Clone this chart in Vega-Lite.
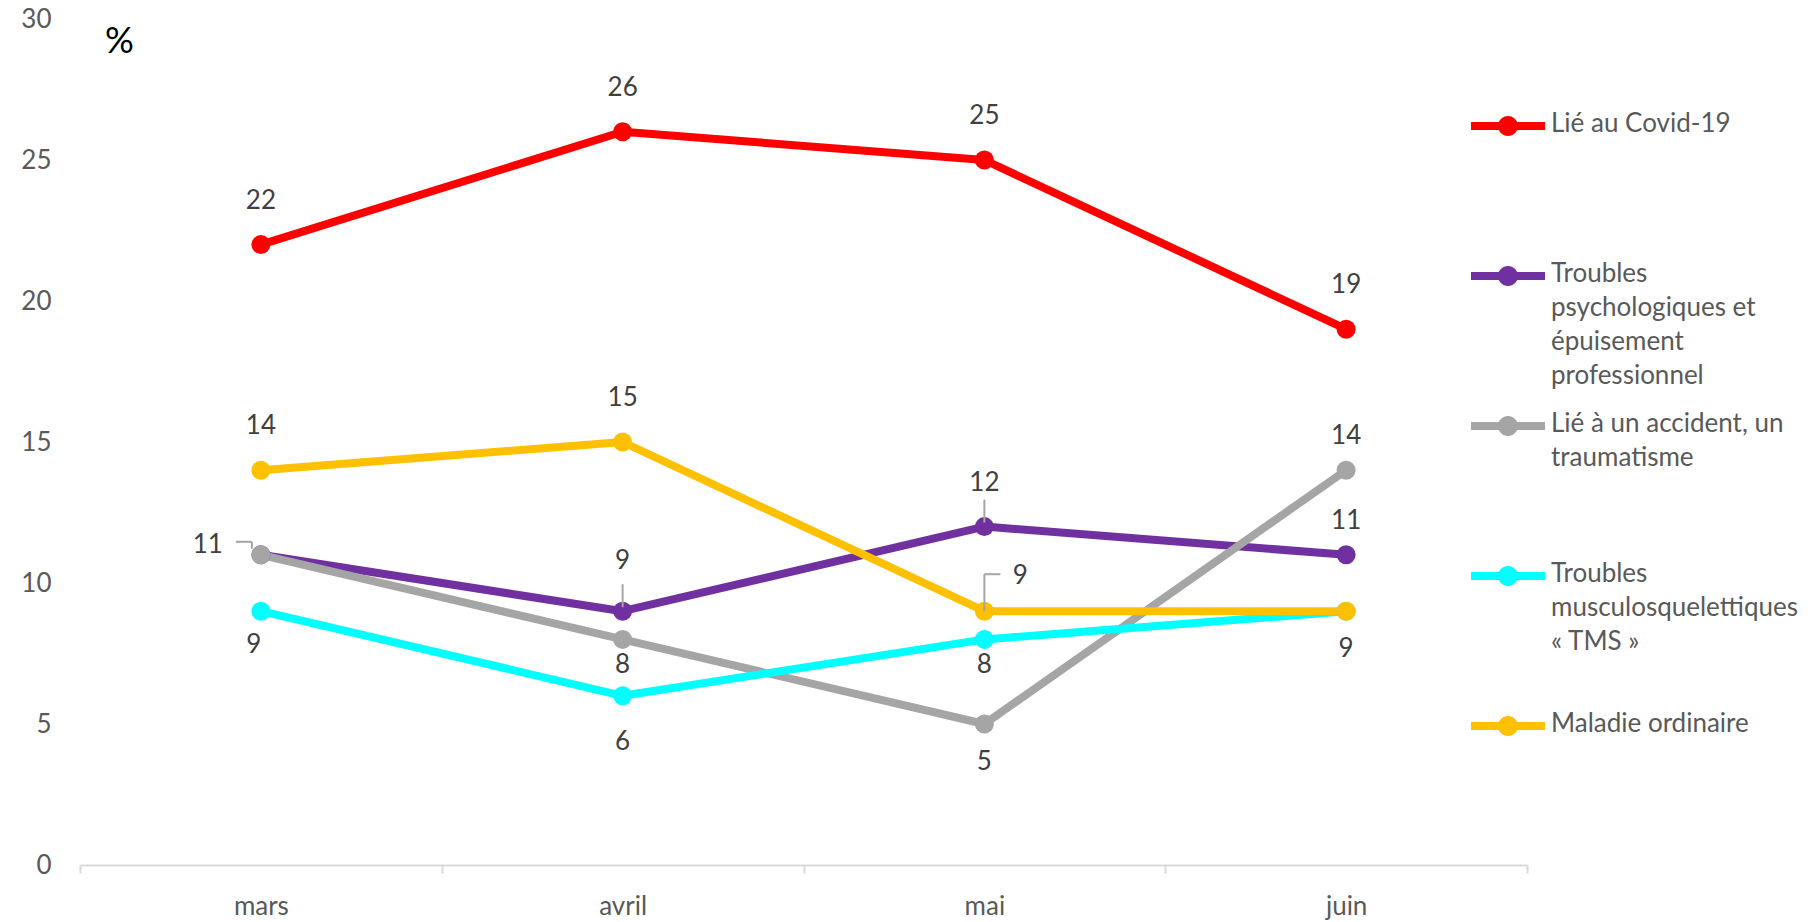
{
  "$schema": "https://vega.github.io/schema/vega-lite/v6.json",
  "autosize": {"type": "none"},
  "padding": {"left": 80, "top": 19, "right": 286, "bottom": 57},
  "width": 1447,
  "height": 846,
  "background": "white",
  "config": {
    "view": {"stroke": null},
    "font": "Lato",
    "text": {"font": "Lato"}
  },
  "data": {
    "values": [
      {"mois": "mars", "serie": "covid", "valeur": 22},
      {"mois": "avril", "serie": "covid", "valeur": 26},
      {"mois": "mai", "serie": "covid", "valeur": 25},
      {"mois": "juin", "serie": "covid", "valeur": 19},
      {"mois": "mars", "serie": "psy", "valeur": 11},
      {"mois": "avril", "serie": "psy", "valeur": 9},
      {"mois": "mai", "serie": "psy", "valeur": 12},
      {"mois": "juin", "serie": "psy", "valeur": 11},
      {"mois": "mars", "serie": "acc", "valeur": 11},
      {"mois": "avril", "serie": "acc", "valeur": 8},
      {"mois": "mai", "serie": "acc", "valeur": 5},
      {"mois": "juin", "serie": "acc", "valeur": 14},
      {"mois": "mars", "serie": "tms", "valeur": 9},
      {"mois": "avril", "serie": "tms", "valeur": 6},
      {"mois": "mai", "serie": "tms", "valeur": 8},
      {"mois": "juin", "serie": "tms", "valeur": 9},
      {"mois": "mars", "serie": "mal", "valeur": 14},
      {"mois": "avril", "serie": "mal", "valeur": 15},
      {"mois": "mai", "serie": "mal", "valeur": 9},
      {"mois": "juin", "serie": "mal", "valeur": 9}
    ]
  },
  "encoding": {
    "x": {
      "field": "mois", "type": "nominal",
      "sort": ["mars", "avril", "mai", "juin"],
      "scale": {"type": "band", "paddingInner": 0, "paddingOuter": 0},
      "axis": {
        "title": null, "labelAngle": 0, "domainColor": "#D9D9D9", "domainWidth": 2,
        "tickColor": "#D9D9D9", "tickWidth": 2, "tickSize": 8, "tickBand": "extent",
        "labelColor": "#595959", "labelFontSize": 26, "labelFont": "Lato", "labelPadding": 20, "grid": false
      }
    },
    "y": {
      "field": "valeur", "type": "quantitative",
      "scale": {"domain": [0, 30], "nice": false},
      "axis": {
        "values": [0, 5, 10, 15, 20, 25, 30], "domain": false, "ticks": false, "grid": false,
        "labelColor": "#595959", "labelFontSize": 26, "labelFont": "Lato", "labelPadding": 29,
        "title": "%", "titleAngle": 0, "titleX": 39, "titleY": 22, "titleAlign": "center",
        "titleBaseline": "middle", "titleColor": "#000000", "titleFontSize": 36,
        "titleFontWeight": "normal", "titleFont": "Lato"
      }
    }
  },
  "layer": [
    {
      "mark": {"type": "line", "strokeWidth": 8, "strokeCap": "round", "strokeJoin": "round"},
      "encoding": {
        "color": {
          "field": "serie", "type": "nominal",
          "scale": {"domain": ["covid", "psy", "acc", "tms", "mal"], "range": ["#FF0000", "#7030A0", "#A5A5A5", "#00FFFF", "#FFC000"]},
          "legend": {
            "orient": "none", "legendX": 1391, "legendY": 70, "title": null,
            "symbolType": "M-1,-0.105L1,-0.105L1,0.105L-1,0.105Z M0.27,0A0.27,0.27,0,1,1,-0.27,0A0.27,0.27,0,1,1,0.27,0Z",
            "symbolSize": 5476, "symbolStrokeWidth": 0,
            "labelFont": "Lato", "labelFontSize": 26, "labelColor": "#595959", "labelLimit": 600,
            "labelOffset": 6, "labelBaseline": "top", "rowPadding": 0,
            "labelExpr": "{'covid':['Lié au Covid-19','','',''],'psy':['Troubles','psychologiques et','épuisement','professionnel'],'acc':['Lié à un accident, un','traumatisme','',''],'tms':['Troubles','musculosquelettiques','« TMS »',''],'mal':['Maladie ordinaire','','','']}[datum.value]",
            "encode": {
              "symbols": {"update": {"fill": {"scale": "color", "field": "value"}, "strokeWidth": {"value": 0}}},
              "labels": {"update": {"lineHeight": {"value": 34}, "dy": {"value": -15}}}
            }
          }
        }
      }
    },
    {
      "mark": {"type": "point", "filled": true, "size": 360, "opacity": 1},
      "encoding": {"color": {"field": "serie", "type": "nominal"}}
    },
    {
      "transform": [{"filter": "indexof(['covid|mars','covid|avril','covid|mai','covid|juin','mal|mars','mal|avril','psy|mai'], datum.serie + '|' + datum.mois) >= 0"}],
      "mark": {"type": "text", "dy": -44, "fontSize": 26, "color": "#404040", "font": "Lato"},
      "encoding": {"text": {"field": "valeur"}}
    },
    {
      "transform": [{"filter": "datum.serie == 'psy' && datum.mois == 'avril'"}],
      "mark": {"type": "text", "dy": -50, "fontSize": 26, "color": "#404040", "font": "Lato"},
      "encoding": {"text": {"field": "valeur"}}
    },
    {
      "transform": [{"filter": "indexof(['acc|juin','psy|juin'], datum.serie + '|' + datum.mois) >= 0"}],
      "mark": {"type": "text", "dy": -34, "fontSize": 26, "color": "#404040", "font": "Lato"},
      "encoding": {"text": {"field": "valeur"}}
    },
    {
      "transform": [{"filter": "indexof(['acc|mai','tms|juin'], datum.serie + '|' + datum.mois) >= 0"}],
      "mark": {"type": "text", "dy": 38, "fontSize": 26, "color": "#404040", "font": "Lato"},
      "encoding": {"text": {"field": "valeur"}}
    },
    {
      "transform": [{"filter": "datum.serie == 'tms' && datum.mois == 'mars'"}],
      "mark": {"type": "text", "dy": 34, "dx": -7, "fontSize": 26, "color": "#404040", "font": "Lato"},
      "encoding": {"text": {"field": "valeur"}}
    },
    {
      "transform": [{"filter": "indexof(['acc|avril','tms|mai'], datum.serie + '|' + datum.mois) >= 0"}],
      "mark": {"type": "text", "dy": 26, "fontSize": 26, "color": "#404040", "font": "Lato"},
      "encoding": {"text": {"field": "valeur"}}
    },
    {
      "transform": [{"filter": "datum.serie == 'tms' && datum.mois == 'avril'"}],
      "mark": {"type": "text", "dy": 46, "fontSize": 26, "color": "#404040", "font": "Lato"},
      "encoding": {"text": {"field": "valeur"}}
    },
    {
      "transform": [{"filter": "datum.serie == 'acc' && datum.mois == 'mars'"}],
      "mark": {"type": "text", "dy": -10, "dx": -38, "align": "right", "fontSize": 26, "color": "#404040", "font": "Lato"},
      "encoding": {"text": {"field": "valeur"}}
    },
    {
      "transform": [{"filter": "datum.serie == 'mal' && datum.mois == 'mai'"}],
      "mark": {"type": "text", "dy": -35, "dx": 36, "fontSize": 26, "color": "#404040", "font": "Lato"},
      "encoding": {"text": {"field": "valeur"}}
    },
    {
      "transform": [{"filter": "datum.serie == 'mal' && datum.mois == 'mai'"}],
      "mark": {"type": "rule", "color": "#A5A5A5", "strokeWidth": 2, "yOffset": -37, "y2Offset": 0},
      "encoding": {"y2": {"field": "valeur"}}
    },
    {
      "transform": [{"filter": "datum.serie == 'mal' && datum.mois == 'mai'"}],
      "mark": {"type": "rule", "color": "#A5A5A5", "strokeWidth": 2, "yOffset": -37, "xOffset": 0, "x2Offset": 16},
      "encoding": {"x2": {"field": "mois"}}
    },
    {
      "transform": [{"filter": "datum.serie == 'acc' && datum.mois == 'mars'"}],
      "mark": {"type": "rule", "color": "#A5A5A5", "strokeWidth": 2, "yOffset": -13, "xOffset": -25, "x2Offset": -9},
      "encoding": {"x2": {"field": "mois"}}
    },
    {
      "transform": [{"filter": "datum.serie == 'acc' && datum.mois == 'mars'"}],
      "mark": {"type": "rule", "color": "#A5A5A5", "strokeWidth": 2, "yOffset": -13, "y2Offset": -6, "xOffset": -9},
      "encoding": {"y2": {"field": "valeur"}}
    },
    {
      "transform": [{"filter": "datum.serie == 'psy' && (datum.mois == 'avril' || datum.mois == 'mai')"}],
      "mark": {"type": "rule", "color": "#A5A5A5", "strokeWidth": 2, "yOffset": -27, "y2Offset": -4},
      "encoding": {"y2": {"field": "valeur"}}
    }
  ]
}
